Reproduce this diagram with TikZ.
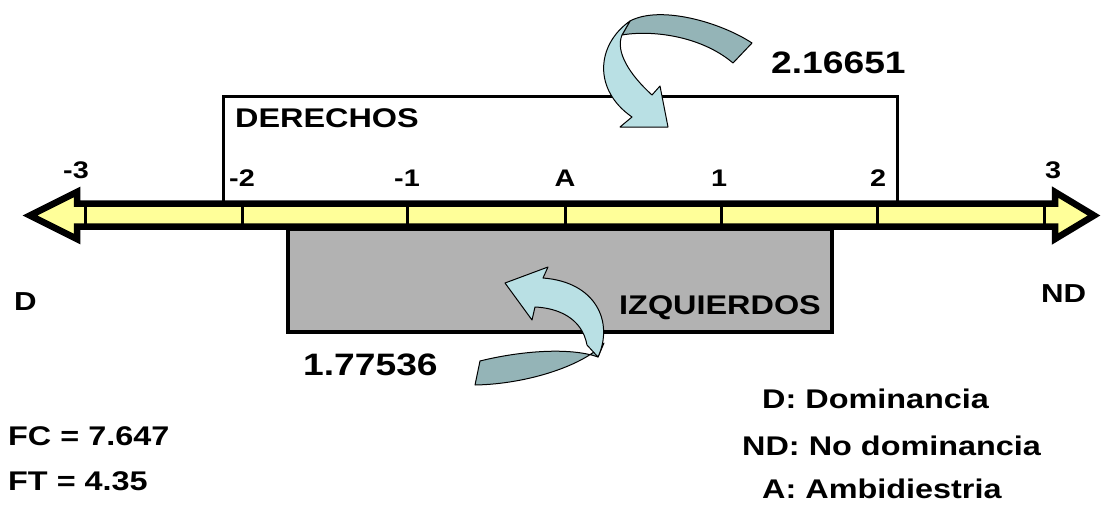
\documentclass[tikz,border=0pt]{standalone}
\usepackage{fontspec}
\setmainfont{Liberation Sans}[FakeStretch=1.2]
\definecolor{axisyellow}{RGB}{255,255,153}
\definecolor{boxgray}{RGB}{178,178,178}
\definecolor{tealL}{RGB}{185,224,228}
\definecolor{tealD}{RGB}{148,180,183}
\begin{document}
\begin{tikzpicture}[x=1pt,y=-1pt,
  lbl/.style={font=\bfseries\fontsize{27}{31}\selectfont, inner sep=0pt},
  big/.style={font=\bfseries\fontsize{31}{35}\selectfont, inner sep=0pt},
  ticklbl/.style={font=\bfseries\fontsize{24}{28}\selectfont, inner sep=0pt, anchor=base},
  ticktext/.style={font=\bfseries\fontsize{26}{30}\selectfont, inner sep=0pt},
  tickline/.style={line width=3pt},
  ribbonL/.style={fill=tealL, draw=black, line width=1pt, line join=round},
  ribbonD/.style={fill=tealD, draw=black, line width=1pt, line join=round}]
\useasboundingbox (0,0) rectangle (1102,506);

% DERECHOS frame (open at bottom)
\draw[line width=3pt] (223,201) -- (223,96.5) -- (897,96.5) -- (897,201);

% IZQUIERDOS box
\draw[line width=3.5pt, fill=boxgray] (288,229) rectangle (832,332);

% axis double arrow
\draw[line width=6.5pt, fill=axisyellow, line join=miter]
  (30,215.5) -- (77,192) -- (77,203.5) -- (1055,203.5) -- (1055,192) -- (1094,215.5)
  -- (1055,239) -- (1055,226.5) -- (77,226.5) -- (77,239) -- cycle;
\foreach \x in {85,242,407,565,721,877,1044}
  \draw[tickline] (\x,204) -- (\x,226);

% tick labels
\node[ticklbl] (tm3) at (76,178) {-3};
\node[ticklbl] (tm2) at (242,186) {-2};
\node[ticklbl] (tm1) at (407,186) {-1};
\node[ticklbl] (tA)  at (565,186) {A};
\node[ticklbl] (tp1) at (719,186) {1};
\node[ticklbl] (tp2) at (878,186) {2};
\node[ticklbl] (tp3) at (1053,178) {3};

% top curved arrow
\path[ribbonD] (752,43) .. controls (720,22) and (660,5) .. (630,21)
  -- (622,35) .. controls (650,30) and (700,35) .. (733,63) -- cycle;
\path[ribbonL] (630,21) .. controls (596,45) and (593,90) .. (632,117)
  -- (620,127) -- (668,127) -- (660,86) -- (652,95)
  .. controls (630,75) and (615,52) .. (622,35) -- cycle;

% bottom curved arrow
\path[ribbonD] (480,361) .. controls (520,351) and (570,347) .. (598,357)
  -- (604,343) .. controls (586,364) and (530,384) .. (475,385) -- cycle;
\path[ribbonL] (598,357) .. controls (614,322) and (596,282) .. (543,278)
  -- (548,267) -- (505,283) -- (532,320) -- (535,307)
  .. controls (558,308) and (582,318) .. (587,345) -- cycle;

% labels
\node[lbl, anchor=base west] (der) at (235,127) {DERECHOS};
\node[lbl, anchor=base west] (izq) at (619,314) {IZQUIERDOS};
\node[big, anchor=base west] (vder) at (771,73) {2.16651};
\node[big, anchor=base west] (vizq) at (303,375) {1.77536};
\node[ticktext, anchor=base west] (dl) at (14,310) {D};
\node[ticktext, anchor=base west] (ndl) at (1041,302) {ND};
\node[lbl, anchor=base west] (fc) at (8,445) {FC = 7.647};
\node[lbl, anchor=base west] (ft) at (8,490) {FT = 4.35};
\node[lbl, anchor=base west] (legD) at (762,408) {D: Dominancia};
\node[lbl, anchor=base west] (legND) at (742,455) {ND: No dominancia};
\node[lbl, anchor=base west] (legA) at (762,498) {A: Ambidiestria};
\end{tikzpicture}
\end{document}
